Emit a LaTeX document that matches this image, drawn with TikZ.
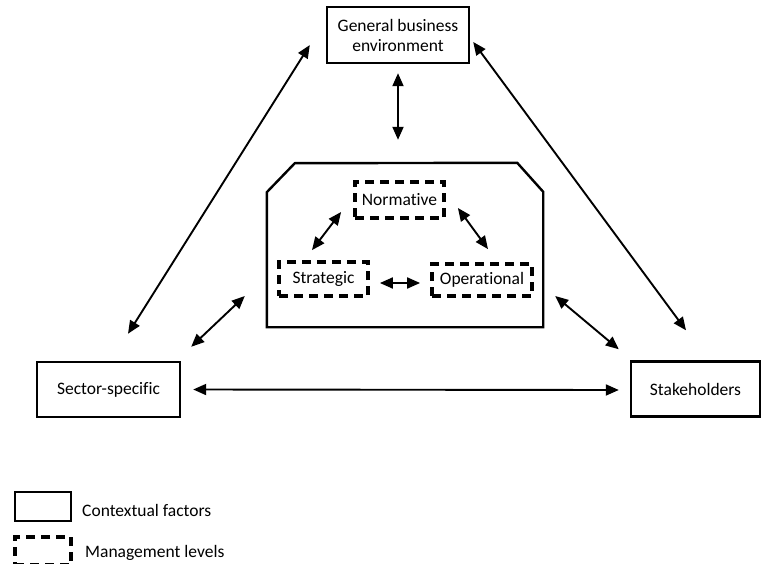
\documentclass[tikz,border=0pt]{standalone}
\usepackage{fontspec}
\setmainfont{Carlito}[Ligatures=NoCommon]
\usetikzlibrary{arrows.meta,calc}
\begin{document}
\begin{tikzpicture}[x=1pt,y=-1pt,
  every node/.style={font=\fontsize{17.5}{20}\selectfont, inner sep=0pt},
  factor/.style={draw, line width=2.4pt, align=center},
  level/.style={draw, line width=3.8pt, dash pattern=on 9pt off 6pt},
  link/.style={line width=1.9pt, {Triangle[length=13pt,width=11pt]}-{Triangle[length=13pt,width=11pt]}}]
\useasboundingbox (0,0) rectangle (762,564);

% contextual factors
\node[factor, minimum width=142pt, minimum height=56pt] (gen) at (398,35) {General business\\environment};
\node[factor, minimum width=143pt, minimum height=55pt] (sec) at (108.5,389.5) {Sector-specific};
\node[factor, minimum width=129pt, minimum height=55pt] (stk) at (695.5,389) {Stakeholders};

% organisation with chamfered top corners
\node[minimum width=276pt, minimum height=164pt] (core) at (405,245) {};
\draw[line width=2.4pt] (core.south west) -- ++(0,-135) -- ++(28,-29) -- ($(core.north east)+(-26,0)$) -- ++(26,29) -- (core.south east) -- cycle;

% management levels
\node[level, minimum width=89pt, minimum height=36pt] (nor) at (399.5,200) {Normative};
\node[level, minimum width=89pt, minimum height=34pt] (str) at (323.5,279) {Strategic};
\node[level, minimum width=100pt, minimum height=32pt] (op) at (482,280) {Operational};

% relations between contextual factors
\draw[link] ($(gen.west)+(-16,10)$) -- ($(sec.north)+(19.5,-27)$);
\draw[link] ($(gen.east)+(3,7)$) -- ($(stk.north)+(-9.5,-30)$);
\draw[link] ($(gen.south)+(0,9)$) -- ($(core.north)+(-7,-23)$);
\draw[link] ($(sec.east)+(12,0)$) -- ($(stk.west)+(-11,1)$);
\draw[link] ($(sec.north east)+(10,-14)$) -- ($(core.west)+(-22,51)$);
\draw[link] ($(core.east)+(12,51)$) -- ($(stk.north west)+(-11,-11)$);

% relations between management levels
\draw[link] ($(nor.west)+(-12,12)$) -- ($(str.north)+(-11.5,-10)$);
\draw[link] ($(nor.east)+(12,8)$) -- ($(op.north)+(6,-13)$);
\draw[link] ($(str.east)+(10,4)$) -- ($(op.west)+(-10,3)$);

% legend
\node[draw, line width=2.4pt, minimum width=56pt, minimum height=29pt] (leg1) at (43,506.5) {};
\node[anchor=west] (leg1t) at (82,510) {Contextual factors};
\node[level, minimum width=56pt, minimum height=28pt] (leg2) at (43,551) {};
\node[anchor=west] (leg2t) at (85,553) {Management levels};
\end{tikzpicture}
\end{document}
